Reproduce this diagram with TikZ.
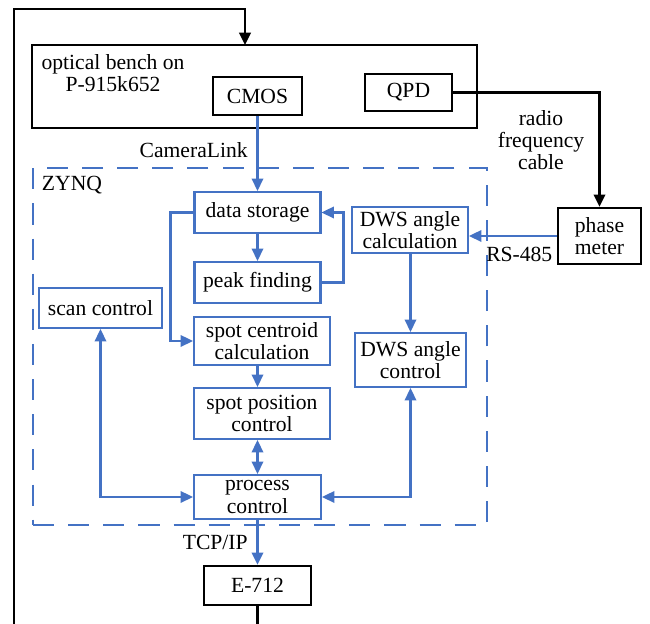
\documentclass[tikz,border=0pt]{standalone}
\usepackage{fontspec}
\setmainfont{Liberation Serif}
\usepackage{tikz}
\usepackage{xcolor}
\usetikzlibrary{arrows.meta, calc, positioning}
\definecolor{cBlue}{RGB}{68,114,196}
\tikzset{
	hwbox/.style ={rectangle, draw=black, line width=1.3pt, align=center, inner sep=1pt},
	blk/.style   ={rectangle, draw=cBlue, line width=1.2pt, align=center, inner sep=1pt},
	zone/.style  ={rectangle, draw=cBlue, line width=1.2pt, dash pattern=on 12pt off 8pt},
	txt/.style   ={align=center, inner sep=1pt, text=black},
	sig/.style   ={-{Triangle[length=7pt, width=6.5pt]}, cBlue, line width=1.2pt},
	bsig/.style  ={{Triangle[length=7pt, width=6.5pt]}-{Triangle[length=7pt, width=6.5pt]}, cBlue, line width=1.2pt},
	cable/.style ={-{Triangle[length=7pt, width=6.5pt]}, black, line width=1.3pt},
}

\begin{document}
\begin{tikzpicture}[x=0.02cm, y=-0.02cm, font=\fontsize{12.3}{12.6}\selectfont]
	\useasboundingbox (0,0) rectangle (650,624);
	\clip (0,0) rectangle (650,624);
	% hardware outside the FPGA
	\node[hwbox, minimum width=8.9cm, minimum height=1.66cm] (bench) at (254.5,86.5) {};
	\node[txt] (benchlbl) at (113,73) {optical bench on\\P-915k652};
	\node[hwbox, minimum width=1.78cm, minimum height=0.76cm] (cmos) at (257.5,96) {CMOS};
	\node[hwbox, minimum width=1.74cm, minimum height=0.74cm] (qpd) at (408.5,92.5) {QPD};
	\node[hwbox, minimum width=1.66cm, minimum height=1.12cm] (phase) at (599.5,236) {phase\\meter};
	\node[hwbox, minimum width=2.14cm, minimum height=0.78cm] (e712) at (257.5,585.5) {E-712};
	% ZYNQ blocks
	\node[zone, minimum width=9.08cm, minimum height=7.14cm] (zynq) at (260,346.5) {};
	\node[txt] (zynqlbl) at (72,185) {ZYNQ};
	\node[blk, minimum width=2.52cm, minimum height=0.82cm] (store) at (257.5,212.5) {data storage};
	\node[blk, minimum width=2.52cm, minimum height=0.82cm] (peak) at (257.5,282.5) {peak finding};
	\node[blk, minimum width=2.72cm, minimum height=0.96cm] (cent) at (262,341) {spot centroid\\calculation};
	\node[blk, minimum width=2.72cm, minimum height=1.02cm] (spos) at (262,413.5) {spot position\\control};
	\node[blk, minimum width=2.54cm, minimum height=0.88cm] (proc) at (257.5,497) {process\\control};
	\node[blk, minimum width=2.46cm, minimum height=0.8cm] (scan) at (100.5,308) {scan control};
	\node[blk, minimum width=2.32cm, minimum height=0.92cm] (dwsc) at (410,230) {DWS angle\\calculation};
	\node[blk, minimum width=2.22cm, minimum height=1.08cm] (dwsa) at (410.5,360) {DWS angle\\control};
	% loop back to the bench
	\coordinate (loopbl) at (14,650);
	\coordinate (looptl) at (14,9);
	\coordinate (benchin) at (245,45);
	\draw[cable] (e712.south) |- (loopbl) -- (looptl) -| (benchin);
	\draw[cable] (qpd.east) -| (phase.north);
	\node[txt] (rflbl) at (541,140) {radio\\frequency\\cable};
	% signal flow
	\draw[sig] (cmos.south) -- (cmos.south |- store.north) node[txt, pos=0.45, left=4pt] (camlbl) {CameraLink};
	\draw[sig] (store) -- (peak);
	\draw[sig] (peak.east) -- ++(22,0) |- (store.east);
	\draw[sig] (store.west) -- ++(-23,0) |- (cent.west);
	\draw[sig] (cent.south -| store) -- (spos.north -| store);
	\draw[bsig] (spos.south -| proc) -- (proc.north);
	\draw[bsig] (scan.south) |- (proc.west);
	\draw[bsig] (dwsa.south) |- (proc.east);
	\draw[sig] (dwsc.south -| dwsa) -- (dwsa.north);
	\draw[sig] (phase.west) -- (phase.west -| dwsc.east) node[txt, pos=0, below left=5pt and 1pt] (rslbl) {RS-485};
	\draw[sig] (proc.south) -- (proc.south |- e712.north) node[txt, midway, left=4pt] (tcplbl) {TCP/IP};
\end{tikzpicture}
\end{document}
